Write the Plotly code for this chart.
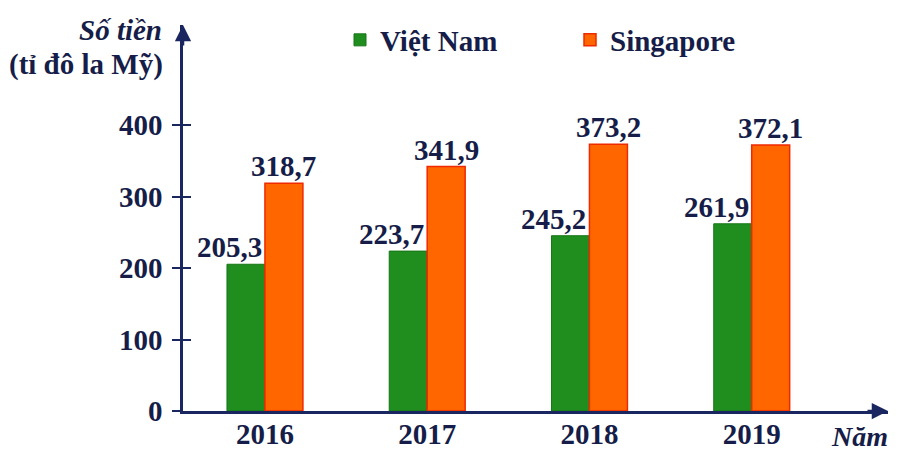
import plotly.graph_objects as go

years = ["2016", "2017", "2018", "2019"]
vietnam = [205.3, 223.7, 245.2, 261.9]
singapore = [318.7, 341.9, 373.2, 372.1]
y_ticks = [0, 100, 200, 300, 400]

navy = "#1a2660"
txt = "#151d48"
FF = "Liberation Serif"
FS = 29

def fmt(v):
    return f"{v:.1f}".replace(".", ",")

L, R, T, B = 183, 16, 25, 39
W = 904 - L - R
H = 450 - T - B
def px(xp): return (xp - L) / W
def py(yp): return (450 - B - yp) / H

fig = go.Figure()
fig.add_trace(go.Bar(
    x=years, y=vietnam, name="Việt Nam",
    marker=dict(color="#1f8e1f", line=dict(color="#167516", width=1)),
))
fig.add_trace(go.Bar(
    x=years, y=singapore, name="Singapore",
    marker=dict(color="#ff6600", line=dict(color="#ee2a00", width=1.5)),
))
# dummy invisible trace to activate yaxis2 (inner half of crossing ticks)
fig.add_trace(go.Scatter(x=years, y=[None] * 4, yaxis="y2", showlegend=False, hoverinfo="skip"))

fig.update_layout(
    width=904, height=450,
    margin=dict(l=L, r=R, t=T, b=B, autoexpand=False),
    paper_bgcolor="white", plot_bgcolor="white",
    barmode="group", bargap=0.532, bargroupgap=0,
    font=dict(family=FF, size=FS, color=txt),
    showlegend=True,
    legend=dict(orientation="h", x=px(340), y=py(40), xanchor="left", yanchor="middle",
                font=dict(family=FF, size=FS, color=txt, weight="bold"),
                itemwidth=30, entrywidth=185, entrywidthmode="pixels",
                bgcolor="rgba(0,0,0,0)"),
    xaxis=dict(range=[-0.505, 3.84], showline=True, linecolor=navy, linewidth=2.5,
               ticks="", showgrid=False, zeroline=False, automargin=False,
               tickfont=dict(family=FF, size=FS, color=txt, weight="bold"),
               ticklabelstandoff=-5),
    yaxis=dict(range=[0, 540], showline=True, linecolor=navy, linewidth=2.5,
               tickvals=y_ticks, ticks="outside", ticklen=8, tickwidth=2, tickcolor=navy,
               showgrid=False, zeroline=False, ticklabelstandoff=4, automargin=False,
               tickfont=dict(family=FF, size=FS, color=txt, weight="bold")),
    yaxis2=dict(range=[0, 540], overlaying="y", side="left", showline=False,
                tickvals=y_ticks, ticks="inside", ticklen=8, tickwidth=2, tickcolor=navy,
                showticklabels=False, showgrid=False, zeroline=False, automargin=False),
)

lab_font = dict(family=FF, size=FS, color=txt, weight="bold")
for i, v in enumerate(vietnam):
    fig.add_annotation(x=i, y=v, xref="x", yref="y", text=fmt(v), showarrow=False,
                       xanchor="right", yanchor="bottom", xshift=-1, yshift=-1, font=lab_font)
for i, v in enumerate(singapore):
    fig.add_annotation(x=i, y=v, xref="x", yref="y", text=fmt(v), showarrow=False,
                       xanchor="center", yanchor="bottom", xshift=19, yshift=-1, font=lab_font)

# arrowheads
fig.add_annotation(x=0, y=1, xref="paper", yref="paper", ax=0, ay=22, axref="pixel", ayref="pixel",
                   showarrow=True, arrowhead=2, arrowsize=1.3, arrowwidth=2.5, arrowcolor=navy, text="")
fig.add_annotation(x=1, y=0, xref="paper", yref="paper", ax=-22, ay=0, axref="pixel", ayref="pixel",
                   showarrow=True, arrowhead=2, arrowsize=1.3, arrowwidth=2.5, arrowcolor=navy, text="")

# axis titles
fig.add_annotation(x=px(164), y=py(30), xref="paper", yref="paper", text="<b><i>Số tiền</i></b>",
                   showarrow=False, xanchor="right", yanchor="middle",
                   font=dict(family=FF, size=FS, color=txt))
fig.add_annotation(x=px(165), y=py(64), xref="paper", yref="paper", text="<b>(tỉ đô la Mỹ)</b>",
                   showarrow=False, xanchor="right", yanchor="middle",
                   font=dict(family=FF, size=FS, color=txt))
fig.add_annotation(x=px(892), y=py(436), xref="paper", yref="paper", text="<b><i>Năm</i></b>",
                   showarrow=False, xanchor="right", yanchor="middle", borderpad=3,
                   font=dict(family=FF, size=28, color=txt))

fig.write_html("out.html", config={"displayModeBar": False},
               post_script="document.body.style.margin='0px';document.body.style.overflow='hidden';")
